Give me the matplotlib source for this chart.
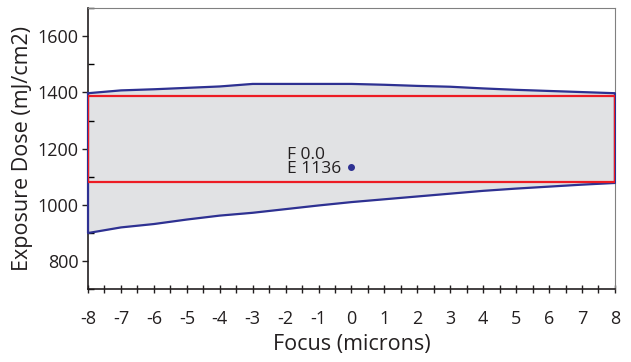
import numpy as np
import matplotlib.pyplot as plt
from matplotlib.patches import Rectangle
from matplotlib.ticker import MultipleLocator

plt.rcParams['font.family'] = ['Open Sans', 'DejaVu Sans']
plt.rcParams['axes.unicode_minus'] = False

# process window boundaries (exposure dose vs focus)
focus = [-8, -7, -6, -5, -4, -3, -2, -1, 0, 1, 2, 3, 4, 5, 6, 7, 8]
dose_upper = [1397, 1407, 1411, 1416, 1421, 1430, 1430, 1430, 1430,
              1427, 1423, 1420, 1414, 1409, 1405, 1401, 1397]
dose_lower = [900, 920, 932, 948, 962, 972, 985, 998, 1010,
              1020, 1030, 1040, 1050, 1058, 1065, 1072, 1078]

# largest rectangular window and its centre
window_focus = [-8, 8]
window_dose = [1081, 1388]
best_focus = 0.0
best_dose = 1136

fig = plt.figure(figsize=(6.31, 3.62), dpi=100)
ax = fig.add_axes([0.1395, 0.2008, 0.835, 0.7772])

poly_x = np.concatenate([focus, focus[::-1], [focus[0]]])
poly_y = np.concatenate([dose_upper, dose_lower[::-1], [dose_upper[0]]])
ax.fill(poly_x, poly_y, color='#e1e2e4', zorder=1)
ax.plot(poly_x, poly_y, color='#2e3192', lw=1.6, zorder=3, clip_on=False)

ax.add_patch(Rectangle((window_focus[0], window_dose[0]),
                       window_focus[1] - window_focus[0],
                       window_dose[1] - window_dose[0],
                       fill=False, edgecolor='#ed1c24', lw=1.6, zorder=4))

ax.plot(best_focus, best_dose, 'o', color='#2e3192', ms=4, zorder=5)
ax.text(best_focus - 0.3, best_dose - 38, f'F {best_focus:.1f}\nE {best_dose}',
        ha='right', va='bottom', multialignment='left', fontsize=12.5,
        color='#231f20', linespacing=0.9)

ax.set_xlim(-8, 8)
ax.set_ylim(700, 1700)
ax.xaxis.set_major_locator(MultipleLocator(1))
ax.xaxis.set_minor_locator(MultipleLocator(0.5))
ax.yaxis.set_minor_locator(MultipleLocator(100))
ax.set_yticks([800, 1000, 1200, 1400, 1600])

ax.tick_params(axis='x', which='both', direction='inout', length=6, width=1,
               labelsize=13, pad=12, colors='#231f20')
ax.tick_params(axis='y', which='major', direction='out', length=4, width=1,
               labelsize=13, pad=3, colors='#231f20')
ax.tick_params(axis='y', which='minor', direction='in', length=4, width=1)

for side in ['left', 'bottom']:
    ax.spines[side].set_color('#231f20')
    ax.spines[side].set_linewidth(1.2)
for side in ['top', 'right']:
    ax.spines[side].set_color('#808080')
    ax.spines[side].set_linewidth(0.8)

ax.set_xlabel('Focus (microns)', fontsize=15.5, color='#231f20', labelpad=4)
ax.set_ylabel('Exposure Dose (mJ/cm2)', fontsize=15.5, color='#231f20', labelpad=3)

fig.savefig('out.png', dpi=100)
